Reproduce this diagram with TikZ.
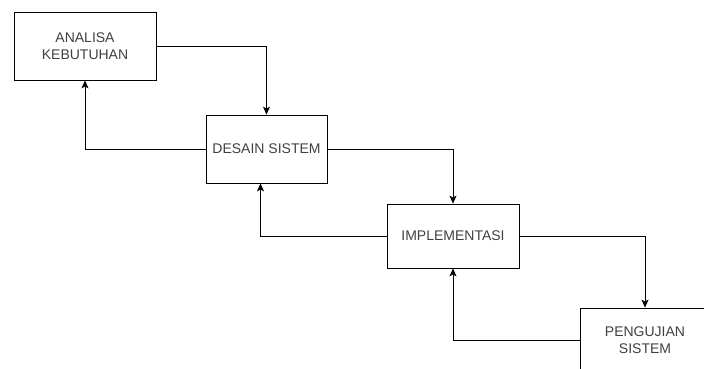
\documentclass[tikz,border=0pt]{standalone}
\usepackage{fontspec}
\setmainfont{Liberation Sans}
\usetikzlibrary{arrows.meta}

\begin{document}
\begin{tikzpicture}[
		x=1pt, y=-1pt,
		tahap/.style={rectangle,draw,thick,text=black!75,align=center,
			font=\fontsize{14}{17}\selectfont,inner sep=0pt},
		alur/.style={thick,-{Stealth[length=8pt,width=7pt,inset=2pt]}}]
		\useasboundingbox (0,0) rectangle (704,368);
		\node[tahap,minimum width=142,minimum height=68] (analisa) at (85,46)   {ANALISA\\KEBUTUHAN};
		\node[tahap,minimum width=121,minimum height=68] (desain)  at (266.5,149) {DESAIN SISTEM};
		\node[tahap,minimum width=132,minimum height=64] (impl)    at (453,236) {IMPLEMENTASI};
		\node[tahap,minimum width=130,minimum height=64] (uji)     at (645,340) {PENGUJIAN\\SISTEM};
		% maju
		\draw[alur] (analisa.east) -| (desain.north);
		\draw[alur] (desain.east) -| (impl.north);
		\draw[alur] (impl.east) -| (uji.north);
		% umpan balik
		\draw[alur] (desain.west) -| (analisa.south);
		\draw[alur] (impl.west) -| ([xshift=-6]desain.south);
		\draw[alur] (uji.west) -| (impl.south);
\end{tikzpicture}
\end{document}
